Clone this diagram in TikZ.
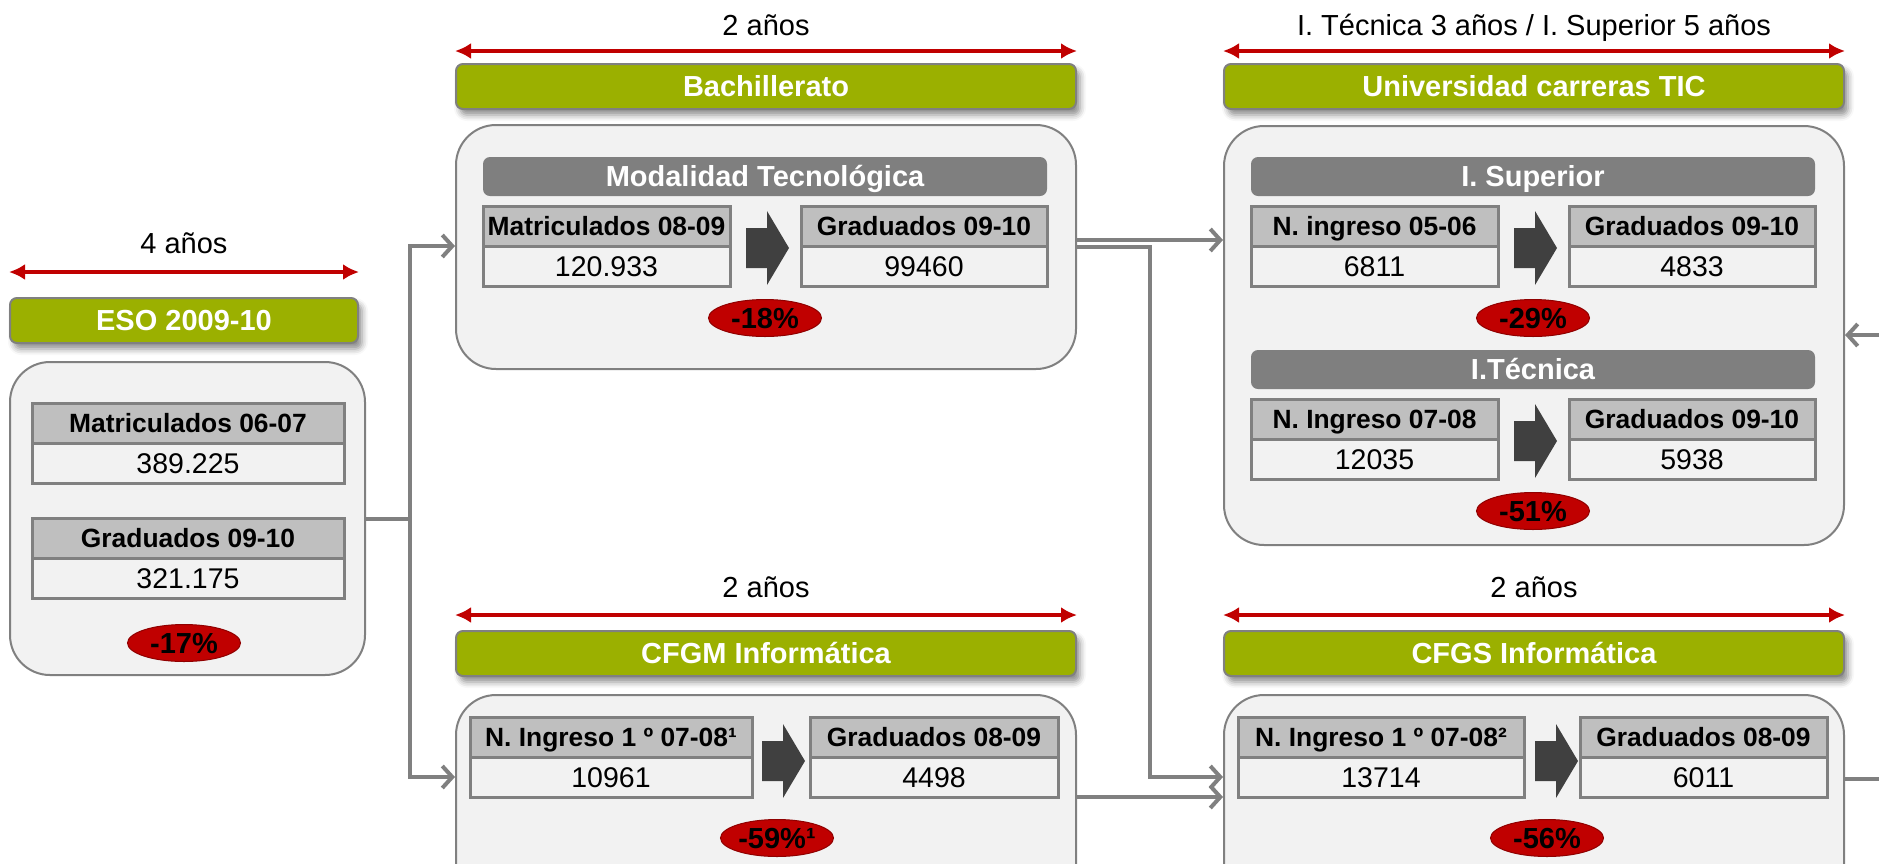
\documentclass[tikz,border=0pt]{standalone}
\usepackage{fontspec}
\setmainfont{Liberation Sans}
\usepackage{tikz}
\usetikzlibrary{positioning,arrows.meta,shapes.geometric,shadows.blur,calc}
\definecolor{olivebar}{HTML}{9BB000}
\definecolor{spanred}{HTML}{C00000}
\definecolor{linegray}{HTML}{808080}
\definecolor{panelgray}{HTML}{F2F2F2}
\definecolor{cellgray}{HTML}{BFBFBF}
\definecolor{bargray}{HTML}{7F7F7F}
\definecolor{chevgray}{HTML}{404040}
\newcommand{\bigtxt}{\fontsize{29}{34}\selectfont}
\newcommand{\headtxt}{\fontsize{26.4}{31}\selectfont}
\newcommand{\valtxt}{\fontsize{28.5}{33}\selectfont}
\tikzset{chev/.pic={\fill[chevgray] (-43,-20) -- (-22,-20) -- (-22,-37) -- (0,0) -- (-22,37) -- (-22,20) -- (-43,20) -- cycle;}}

\begin{document}
\begin{tikzpicture}[x=1pt, y=-1pt, >=Latex,
    stagebox/.style={draw=linegray, line width=2pt, fill=panelgray, rounded corners=40pt},
    headband/.style={draw=linegray, line width=2pt, fill=olivebar, rounded corners=7pt, minimum width=620pt, minimum height=45pt,
      text=white, font=\bfseries\bigtxt, text height=20pt, text depth=0pt,
      blur shadow={shadow xshift=4pt, shadow yshift=-6pt, shadow blur radius=6pt, shadow opacity=45}},
    subband/.style={fill=bargray, rounded corners=7pt, minimum width=564pt, minimum height=39pt,
      text=white, font=\bfseries\bigtxt, text height=20pt, text depth=0pt},
    hcell/.style={draw=linegray, line width=3pt, fill=cellgray, minimum height=40pt, inner sep=0pt, outer sep=0pt,
      font=\bfseries\headtxt, text height=19pt, text depth=0pt},
    vcell/.style={draw=linegray, line width=3pt, fill=panelgray, minimum height=40pt, inner sep=0pt, outer sep=0pt,
      font=\valtxt, text height=20pt, text depth=0pt},
    pct/.style={ellipse, fill=spanred, draw=spanred!75!black, line width=1pt, minimum width=113pt, minimum height=37pt,
      inner sep=0pt, font=\bfseries\bigtxt, text height=20pt, text depth=0pt},
    yeartxt/.style={font=\bigtxt, text height=20pt, text depth=0pt},
    yearspan/.style={draw=spanred, line width=4pt, {Latex[length=16pt,width=16pt]}-{Latex[length=16pt,width=16pt]}},
    conn/.style={draw=linegray, line width=4pt, -{Straight Barb[length=10pt,width=22pt]}}]
  \useasboundingbox (0,0) rectangle (1879,863);
  \clip (0,0) rectangle (1879,863);

  % ESO
  \node[yeartxt] (esoYrs) at (184,243) {4 años};
  \node[headband, minimum width=348pt] (esoBar) at (184,320.5) {ESO 2009-10};
  \draw[yearspan] ([yshift=25pt]esoBar.north west) -- ([yshift=25pt]esoBar.north east);
  \node[stagebox, minimum width=355pt, minimum height=313pt] (eso) at (187.5,518.5) {};
  \node[hcell, minimum width=312pt] (esoMatH) at (188,423) {Matriculados 06-07};
  \node[vcell, minimum width=312pt, below=0pt of esoMatH] (esoMatV) {389.225};
  \node[hcell, minimum width=312pt] (esoGrH) at (188,538) {Graduados 09-10};
  \node[vcell, minimum width=312pt, below=0pt of esoGrH] (esoGrV) {321.175};
  \node[pct] (esoPct) at (184,643) {-17\%};

  % Bachillerato
  \node[yeartxt] (bachYrs) at (766,25) {2 años};
  \node[headband] (bachBar) at (766,86.5) {Bachillerato};
  \draw[yearspan] ([yshift=12pt]bachBar.north west) -- ([yshift=12pt]bachBar.north east);
  \node[stagebox, minimum width=620pt, minimum height=244pt] (bach) at (766,247) {};
  \node[subband] (bachMod) at (765,176.5) {Modalidad Tecnológica};
  \node[hcell, minimum width=247pt] (bachMatH) at (606.5,226) {Matriculados 08-09};
  \node[vcell, minimum width=247pt, below=0pt of bachMatH] (bachMatV) {120.933};
  \node[hcell, minimum width=246pt] (bachGrH) at (924,226) {Graduados 09-10};
  \node[vcell, minimum width=246pt, below=0pt of bachGrH] (bachGrV) {99460};
  \pic at (789,248) {chev};
  \node[pct] (bachPct) at (765,318) {-18\%};

  % Universidad
  \node[yeartxt] (univYrs) at (1534,25) {I. Técnica 3 años / I. Superior 5 años};
  \node[headband] (univBar) at (1534,86.5) {Universidad carreras TIC};
  \draw[yearspan] ([yshift=12pt]univBar.north west) -- ([yshift=12pt]univBar.north east);
  \node[stagebox, minimum width=620pt, minimum height=419pt] (univ) at (1534,335.5) {};
  \node[subband] (univSup) at (1533,176.5) {I. Superior};
  \node[hcell, minimum width=247pt] (supIngH) at (1374.5,226) {N. ingreso 05-06};
  \node[vcell, minimum width=247pt, below=0pt of supIngH] (supIngV) {6811};
  \node[hcell, minimum width=246pt] (supGrH) at (1692,226) {Graduados 09-10};
  \node[vcell, minimum width=246pt, below=0pt of supGrH] (supGrV) {4833};
  \pic at (1557,248) {chev};
  \node[pct] (supPct) at (1533,318) {-29\%};
  \node[subband] (univTec) at (1533,369.5) {I.Técnica};
  \node[hcell, minimum width=247pt] (tecIngH) at (1374.5,419) {N. Ingreso 07-08};
  \node[vcell, minimum width=247pt, below=0pt of tecIngH] (tecIngV) {12035};
  \node[hcell, minimum width=246pt] (tecGrH) at (1692,419) {Graduados 09-10};
  \node[vcell, minimum width=246pt, below=0pt of tecGrH] (tecGrV) {5938};
  \pic at (1557,441) {chev};
  \node[pct] (tecPct) at (1533,511) {-51\%};

  % CFGM
  \node[yeartxt] (cfgmYrs) at (766,587) {2 años};
  \node[headband] (cfgmBar) at (766,653.5) {CFGM Informática};
  \draw[yearspan] ([yshift=15pt]cfgmBar.north west) -- ([yshift=15pt]cfgmBar.north east);
  \node[stagebox, minimum width=620pt, minimum height=300pt] (cfgm) at (766,845) {};
  \node[hcell, minimum width=282pt] (cfgmIngH) at (611,737) {N. Ingreso 1 º 07-08¹};
  \node[vcell, minimum width=282pt, below=0pt of cfgmIngH] (cfgmIngV) {10961};
  \node[hcell, minimum width=248pt] (cfgmGrH) at (934,737) {Graduados 08-09};
  \node[vcell, minimum width=248pt, below=0pt of cfgmGrH] (cfgmGrV) {4498};
  \pic at (805,761) {chev};
  \node[pct] (cfgmPct) at (777,838) {-59\%¹};

  % CFGS
  \node[yeartxt] (cfgsYrs) at (1534,587) {2 años};
  \node[headband] (cfgsBar) at (1534,653.5) {CFGS Informática};
  \draw[yearspan] ([yshift=15pt]cfgsBar.north west) -- ([yshift=15pt]cfgsBar.north east);
  \node[stagebox, minimum width=620pt, minimum height=300pt] (cfgs) at (1534,845) {};
  \node[hcell, minimum width=286pt] (cfgsIngH) at (1381,737) {N. Ingreso 1 º 07-08²};
  \node[vcell, minimum width=286pt, below=0pt of cfgsIngH] (cfgsIngV) {13714};
  \node[hcell, minimum width=247pt] (cfgsGrH) at (1703.5,737) {Graduados 08-09};
  \node[vcell, minimum width=247pt, below=0pt of cfgsGrH] (cfgsGrV) {6011};
  \pic at (1578,761) {chev};
  \node[pct] (cfgsPct) at (1547,838) {-56\%};

  % connectors
  \coordinate (jEso) at (410,518.5);
  \coordinate (jBach) at (1150,0);
  \coordinate (uIn) at (1879,335);
  \coordinate (sOut) at (1879,779);
  \draw[conn, -] (eso.east) -- (jEso);
  \draw[conn] (jEso) |- (bachMatH.south -| bach.west);
  \draw[conn] (jEso) |- (cfgmIngV.center -| cfgm.west);
  \draw[conn] ([yshift=7pt]bach.east) -- ([yshift=7pt]bach.east -| univ.west);
  \draw[conn] (bach.east) -- (bach.east -| jBach) |- (cfgsIngV.center -| cfgs.west);
  \draw[conn] (cfgmGrV.south -| cfgm.east) -- (cfgmGrV.south -| cfgs.west);
  \draw[conn, -] (sOut -| cfgs.east) -- (sOut);
  \draw[conn] (uIn) -- (uIn -| univ.east);
\end{tikzpicture}
\end{document}
